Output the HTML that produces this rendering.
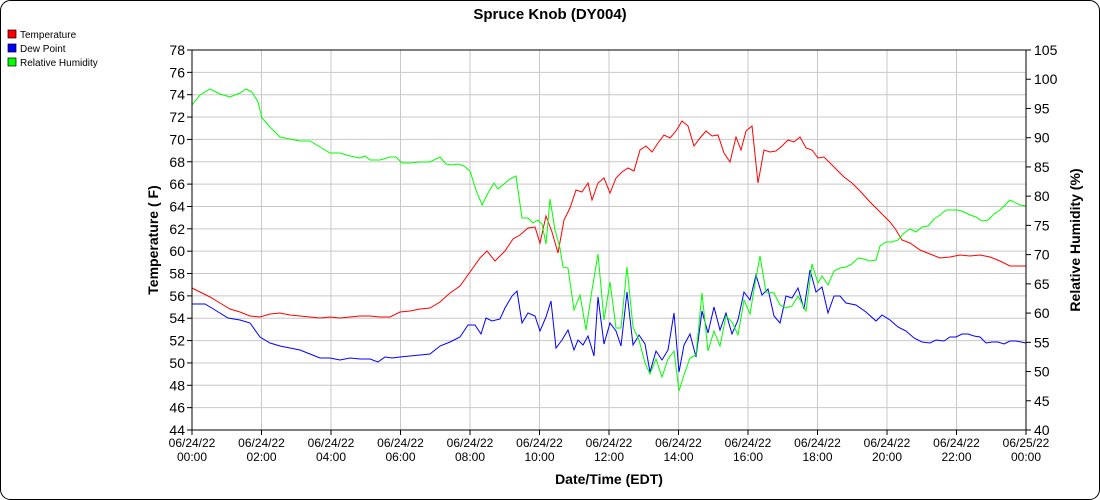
<!DOCTYPE html>
<html><head><meta charset="utf-8"><style>
body{margin:0;background:#fff;}
svg{display:block;font-family:"Liberation Sans",sans-serif;}
</style></head><body>
<svg id="s" width="1100" height="500" xmlns="http://www.w3.org/2000/svg">
<rect x="0.5" y="0.5" width="1099" height="499" rx="10" fill="#fff" stroke="#000"/>
<text x="550" y="19" text-anchor="middle" font-size="15" font-weight="bold">Spruce Knob (DY004)</text>
<rect x="8" y="30" width="8" height="8" fill="#f00" stroke="#000" stroke-width="0.7"/><text x="20" y="38" font-size="10">Temperature</text>
<rect x="8" y="44" width="8" height="8" fill="#00f" stroke="#000" stroke-width="0.7"/><text x="20" y="52" font-size="10">Dew Point</text>
<rect x="8" y="58" width="8" height="8" fill="#0f0" stroke="#000" stroke-width="0.7"/><text x="20" y="66" font-size="10">Relative Humidity</text>
<g id="grid"></g>
<text transform="translate(158,240) rotate(-90)" text-anchor="middle" font-size="14" font-weight="bold">Temperature ( F)</text>
<text transform="translate(1080,240) rotate(-90)" text-anchor="middle" font-size="14" font-weight="bold">Relative Humidity (%)</text>
<text x="609" y="484" text-anchor="middle" font-size="14" font-weight="bold">Date/Time (EDT)</text>
<polyline fill="none" stroke="#f00" stroke-width="1" points="192,288 200,292 210,297 220,303 230,309 240,312 250,316 260,317 270,314 280,313 290,315 300,316 310,317 320,318 330,317 340,318 350,317 360,316 370,316 380,317 390,317 400,312 410,311 420,309 430,308 440,302 450,293 460,286 470,272 480,258 487,251 495,261 505,251 513,239 520,235 528,228 535,227 540,243 546,216 552,232 558,253 564,220 570,208 576,190 582,192 588,183 592,200 598,183 604,178 610,193 616,178 622,172 628,168 634,171 640,150 646,146 652,152 658,143 664,135 670,138 676,131 682,121 688,126 694,146 700,138 706,131 712,136 718,135 724,153 730,162 736,137 741,150 746,131 752,126 758,183 764,150 770,152 776,151 782,146 788,140 794,142 800,137 806,148 812,150 818,158 824,157 830,163 836,169 844,177 852,183 860,191 870,202 880,212 890,222 896,230 902,240 910,243 920,250 930,254 940,258 950,257 960,255 970,256 980,255 990,257 1000,261 1010,266 1020,266 1026,266"/>
<polyline fill="none" stroke="#00f" stroke-width="1" points="192,304 205,304 215,310 228,318 240,320 250,323 260,337 270,343 280,346 290,348 300,350 310,354 320,358 330,358 340,360 350,358 360,359 370,359 378,362 385,357 392,358 400,357 410,356 420,355 430,354 440,346 450,342 460,337 468,325 475,325 481,334 486,318 492,321 500,319 505,308 512,296 517,291 522,323 528,313 535,316 540,331 546,317 551,301 556,348 562,340 568,330 574,350 578,340 583,345 588,336 594,356 598,297 604,344 610,323 616,331 621,346 627,292 633,345 639,335 645,344 650,372 656,351 662,360 668,350 674,313 679,372 684,345 690,334 696,357 702,311 708,333 714,307 720,330 726,313 732,334 738,320 744,292 750,300 756,275 762,295 768,289 774,316 780,323 786,296 792,298 798,288 804,309 810,270 816,292 822,287 828,313 834,296 840,296 846,303 856,305 866,312 876,321 882,315 890,320 898,327 906,331 914,338 922,342 930,343 936,340 944,341 950,337 956,337 962,334 968,334 974,336 980,337 986,343 992,342 998,342 1004,344 1010,341 1016,341 1026,343"/>
<polyline fill="none" stroke="#0f0" stroke-width="1" points="192,105 200,95 210,89 220,94 230,97 240,93 246,89 252,92 258,102 262,118 270,127 280,137 290,139 300,141 310,141 320,147 330,153 340,153 350,156 360,158 365,156 370,160 380,160 390,157 396,157 402,163 410,163 420,162 430,162 440,157 446,164 452,165 458,164 464,166 470,171 476,190 482,205 488,193 494,183 498,189 504,184 510,179 516,176 522,218 528,218 533,223 538,220 542,224 546,244 550,199 555,230 560,248 563,267 568,268 574,310 580,295 586,330 592,290 598,254 604,320 610,282 616,328 621,328 627,267 633,327 639,340 645,363 650,374 656,359 662,377 668,359 674,351 679,391 684,375 690,358 696,355 702,293 708,351 714,331 720,346 726,316 732,322 738,335 744,300 750,314 756,278 760,256 766,292 774,293 780,305 786,308 792,306 798,296 806,311 812,264 818,283 822,276 828,285 834,271 840,268 846,267 852,264 858,258 864,259 870,261 876,260 880,246 886,242 892,242 898,240 904,233 910,229 916,232 922,227 928,226 934,219 940,215 946,210 952,210 958,210 964,212 970,215 976,217 982,221 988,220 994,214 1000,210 1010,200 1020,205 1026,206"/>
<g id="axes"></g>
</svg>
<script>
var NS="http://www.w3.org/2000/svg",g=document.getElementById("grid"),a=document.getElementById("axes");
function el(p,t,at,txt){var e=document.createElementNS(NS,t);for(var k in at)e.setAttribute(k,at[k]);if(txt!=null)e.textContent=txt;p.appendChild(e);return e;}
var L=192,R=1026,T=50,B=430;
for(var i=0;i<=17;i++){var y=B-i*(B-T)/17;el(g,"line",{x1:L,x2:R,y1:y,y2:y,stroke:"#c8c8c8"});
el(a,"line",{x1:L-5,x2:L,y1:y,y2:y,stroke:"#000"});el(a,"text",{x:L-7,y:y+5,"text-anchor":"end","font-size":"14"},44+2*i);}
for(var i=0;i<=12;i++){var x=L+i*(R-L)/12;el(g,"line",{x1:x,x2:x,y1:T,y2:B,stroke:"#c8c8c8"});
el(a,"line",{x1:x,x2:x,y1:B,y2:B+5,stroke:"#000"});
var h=(2*i)%24,d=i==12?"06/25/22":"06/24/22";
el(a,"text",{x:x,y:B+17,"text-anchor":"middle","font-size":"12"},d);
el(a,"text",{x:x,y:B+31,"text-anchor":"middle","font-size":"12"},(h<10?"0":"")+h+":00");}
for(var i=0;i<=13;i++){var y=B-i*(B-T)/13;el(a,"line",{x1:R,x2:R+5,y1:y,y2:y,stroke:"#000"});
el(a,"text",{x:R+8,y:y+5,"font-size":"14"},40+5*i);}
el(a,"line",{x1:L,x2:L,y1:T,y2:B,stroke:"#000"});el(a,"line",{x1:R,x2:R,y1:T,y2:B,stroke:"#000"});
el(a,"line",{x1:L,x2:R,y1:B,y2:B,stroke:"#000"});el(a,"line",{x1:L,x2:R,y1:T,y2:T,stroke:"#000"});
</script>
</body></html>
